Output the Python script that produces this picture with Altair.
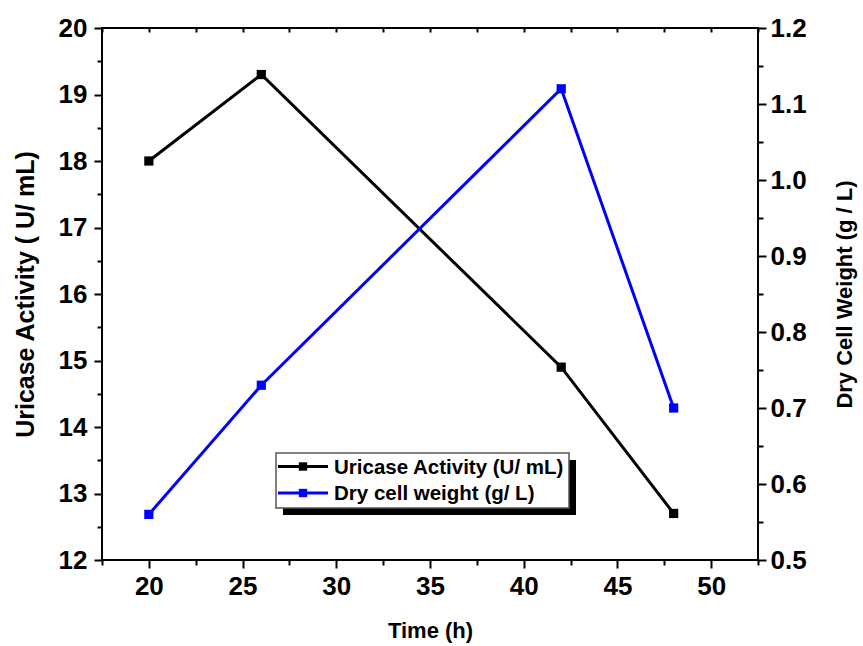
import altair as alt
import pandas as pd

# ---- data ----
time_h = [20, 26, 42, 48]
uricase = [18.0, 19.3, 14.9, 12.7]
dry_weight = [0.56, 0.73, 1.12, 0.70]

x_ticks = [17.5 + 2.5 * i for i in range(15)]
y_left_ticks = [12 + 0.5 * i for i in range(17)]
y_right_ticks = [round(0.5 + 0.05 * i, 2) for i in range(15)]

legend_labels = ["Uricase Activity (U/ mL)", "Dry cell weight (g/ L)"]
series_colors = ["#000000", "#0000FF"]

df = pd.DataFrame({"time": time_h, "uricase": uricase, "dry": dry_weight})

FONT = "Liberation Sans"
W, H = 656, 532
TICK_FS = 26

x_scale = alt.Scale(domain=[17.5, 52.5], nice=False, zero=False)

bottom_axis = alt.Axis(
    orient="bottom", values=x_ticks,
    labelExpr="datum.value % 5 === 0 ? format(datum.value, 'd') : ''",
    tickSize={"condition": {"test": "datum.value % 5 === 0", "value": 8}, "value": 5},
    tickWidth=2, tickColor="black", domain=False, grid=False,
    labelFont=FONT, labelFontSize=TICK_FS, labelFontWeight="bold", labelColor="black",
    labelPadding=5, labelFlush=False,
    title="Time (h)", titleFont=FONT, titleFontSize=22, titleFontWeight="bold",
    titleColor="black", titlePadding=21,
)
top_axis = alt.Axis(
    orient="top", values=x_ticks, labels=False, tickSize=4, offset=-4,
    tickWidth=2, tickColor="black", domain=False, grid=False, title=None,
)
left_axis = alt.Axis(
    orient="left", values=y_left_ticks,
    labelExpr="datum.value % 1 === 0 ? format(datum.value, 'd') : ''",
    tickSize={"condition": {"test": "datum.value % 1 === 0", "value": 8}, "value": 5},
    tickWidth=2, tickColor="black", domain=False, grid=False,
    labelFont=FONT, labelFontSize=TICK_FS, labelFontWeight="bold", labelColor="black",
    labelPadding=7, labelFlush=False,
    title="Uricase Activity ( U/ mL)", titleFont=FONT, titleFontSize=25,
    titleFontWeight="bold", titleColor="black", titlePadding=20,
)
right_axis = alt.Axis(
    orient="right", values=y_right_ticks,
    labelExpr="abs(datum.value*10 - round(datum.value*10)) < 0.000001 ? format(datum.value, '.1f') : ''",
    tickSize={"condition": {"test": "abs(datum.value*10 - round(datum.value*10)) < 0.000001", "value": 8}, "value": 5},
    tickWidth=2, tickColor="black", domain=False, grid=False,
    labelFont=FONT, labelFontSize=TICK_FS, labelFontWeight="bold", labelColor="black",
    labelPadding=4, labelFlush=False,
    title="Dry Cell Weight (g / L)", titleFont=FONT, titleFontSize=22,
    titleFontWeight="bold", titleColor="black", titlePadding=50, titleAngle=270,
)

base = alt.Chart(df)

uric_layer = base.mark_line(
    color=series_colors[0], strokeWidth=3,
    point=alt.OverlayMarkDef(shape="square", filled=True, size=85, color=series_colors[0], opacity=1),
).encode(
    x=alt.X("time:Q", scale=x_scale, axis=bottom_axis),
    y=alt.Y("uricase:Q", scale=alt.Scale(domain=[12, 20], nice=False, zero=False), axis=left_axis),
)

dry_layer = base.mark_line(
    color=series_colors[1], strokeWidth=3,
    point=alt.OverlayMarkDef(shape="square", filled=True, size=85, color=series_colors[1], opacity=1),
).encode(
    x=alt.X("time:Q", scale=x_scale, axis=top_axis),
    y=alt.Y("dry:Q", scale=alt.Scale(domain=[0.5, 1.2], nice=False, zero=False), axis=right_axis),
)

# ---- legend (drawn manually, with drop shadow) ----
one = alt.Chart(pd.DataFrame({"k": [0]}))
LX0, LX1, LY0, LY1 = 174, 467, 425, 480
shadow = one.mark_rect(color="black").encode(
    x=alt.value(LX0 + 7), x2=alt.value(LX1 + 7), y=alt.value(LY0 + 7), y2=alt.value(LY1 + 7))
box = one.mark_rect(fill="white", stroke="#555555", strokeWidth=1.5).encode(
    x=alt.value(LX0), x2=alt.value(LX1), y=alt.value(LY0), y2=alt.value(LY1))

legend_layers = [shadow, box]
row_y = [LY0 + 13.5, LY0 + 40]
for lab, col, ry in zip(legend_labels, series_colors, row_y):
    ldf = alt.Chart(pd.DataFrame({"label": [lab]}))
    legend_layers.append(ldf.mark_rule(color=col, strokeWidth=3).encode(
        x=alt.value(LX0 + 2), x2=alt.value(LX0 + 52), y=alt.value(ry)))
    legend_layers.append(ldf.mark_square(color=col, filled=True, size=70, opacity=1).encode(
        x=alt.value(LX0 + 27), y=alt.value(ry)))
    legend_layers.append(ldf.mark_text(
        align="left", baseline="middle", font=FONT, fontSize=20.5, fontWeight="bold", color="black"
    ).encode(x=alt.value(LX0 + 58), y=alt.value(ry + 1), text="label:N"))

chart = alt.layer(uric_layer, dry_layer, *legend_layers).resolve_scale(
    y="independent"
).resolve_axis(
    x="independent", y="independent"
).properties(
    width=W, height=H,
    autosize=alt.AutoSizeParams(type="none"),
    padding={"left": 102, "top": 28, "right": 105, "bottom": 86},
    background="white",
).configure_view(stroke="black", strokeWidth=2)

chart.save("out.html", embed_options={"renderer": "svg", "actions": False})
